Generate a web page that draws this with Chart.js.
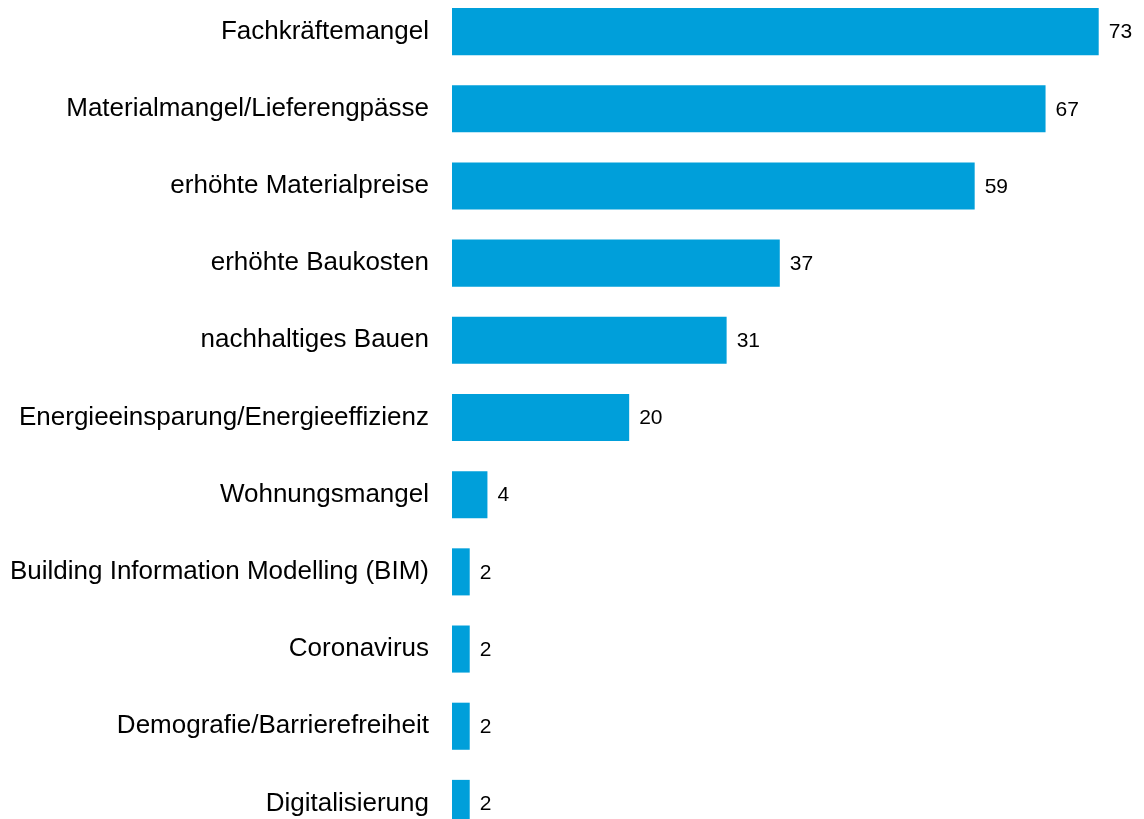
<!DOCTYPE html>
<html>
<head>
<meta charset="utf-8">
<script src="https://cdn.jsdelivr.net/npm/chart.js@4/dist/chart.umd.min.js"></script>
<style>
  html, body { margin: 0; padding: 0; background: #fff; overflow: hidden; }
  #wrap { position: absolute; left: 0; top: -7px; width: 1144px; height: 849px; }
</style>
</head>
<body>
<div id="wrap"><canvas id="grafico"></canvas></div>
<script>
const kategorien = [
  'Fachkräftemangel',
  'Materialmangel/Lieferengpässe',
  'erhöhte Materialpreise',
  'erhöhte Baukosten',
  'nachhaltiges Bauen',
  'Energieeinsparung/Energieeffizienz',
  'Wohnungsmangel',
  'Building Information Modelling (BIM)',
  'Coronavirus',
  'Demografie/Barrierefreiheit',
  'Digitalisierung'
];
const werte = [73, 67, 59, 37, 31, 20, 4, 2, 2, 2, 2];

const schrift = 'Arial, "Liberation Sans", sans-serif';

// Werte rechts neben den Balken schreiben
const wertLabels = {
  id: 'wertLabels',
  afterDatasetsDraw(chart) {
    const ctx = chart.ctx;
    const meta = chart.getDatasetMeta(0);
    ctx.save();
    ctx.font = '21px ' + schrift;
    ctx.fillStyle = '#000';
    ctx.textAlign = 'left';
    ctx.textBaseline = 'middle';
    meta.data.forEach((bar, i) => {
      ctx.fillText(String(werte[i]), bar.x + 10, bar.y + 1);
    });
    ctx.restore();
  }
};

new Chart(document.getElementById('grafico'), {
  type: 'bar',
  data: {
    labels: kategorien,
    datasets: [{
      data: werte,
      backgroundColor: '#009fda',
      borderWidth: 0,
      categoryPercentage: 1,
      barPercentage: 0.61
    }]
  },
  options: {
    indexAxis: 'y',
    responsive: true,
    maintainAspectRatio: false,
    animation: false,
    layout: { padding: { left: 0, right: 1, top: 0, bottom: 0 } },
    plugins: {
      legend: { display: false },
      tooltip: { enabled: false }
    },
    scales: {
      x: {
        display: false,
        min: 0,
        max: 78
      },
      y: {
        grid: { display: false, drawTicks: false },
        border: { display: false },
        ticks: {
          color: '#000',
          padding: 23,
          font: { family: schrift, size: 26 }
        },
        afterFit(scale) {
          scale.width = 452;
          scale.paddingTop = 0;
          scale.paddingBottom = 0;
        }
      }
    }
  },
  plugins: [wertLabels]
});
</script>
</body>
</html>
